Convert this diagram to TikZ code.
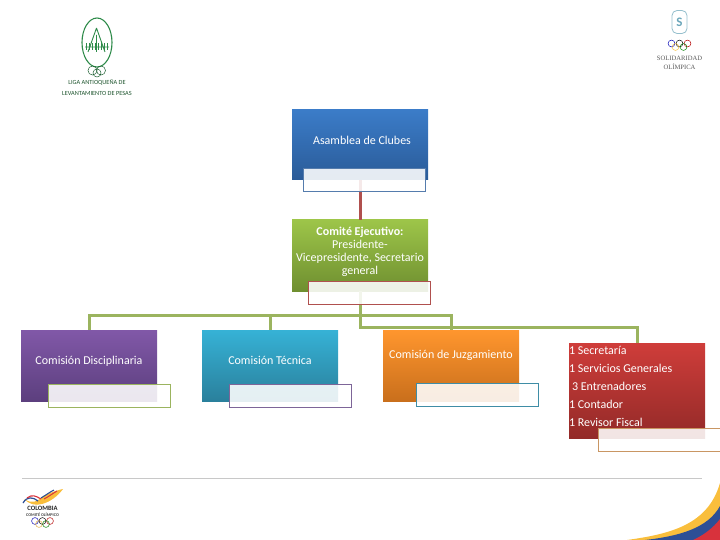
\documentclass[tikz,border=0pt]{standalone}
\usepackage{fontspec}
\setmainfont{Carlito}
\newfontfamily\logoserif{Liberation Serif}
\usetikzlibrary{positioning, calc, shapes.geometric}

\definecolor{bluetop}{HTML}{3B7CC8}
\definecolor{bluebot}{HTML}{2A5B98}
\definecolor{greentop}{HTML}{9DC549}
\definecolor{greenbot}{HTML}{6F8F30}
\definecolor{purpletop}{HTML}{8158A8}
\definecolor{purplebot}{HTML}{5C3F7E}
\definecolor{cyantop}{HTML}{36B2D6}
\definecolor{cyanbot}{HTML}{2A809C}
\definecolor{orangetop}{HTML}{FF962E}
\definecolor{orangebot}{HTML}{C96F1C}
\definecolor{redtop}{HTML}{CF3D3A}
\definecolor{redbot}{HTML}{932A28}
\definecolor{linkgreen}{HTML}{9BB45F}
\definecolor{linkred}{HTML}{B0504E}
\definecolor{footgrey}{HTML}{C8C8C8}
\definecolor{logogreen}{HTML}{2E8B4A}
\definecolor{flagyellow}{HTML}{F9BE3C}
\definecolor{flagblue}{HTML}{2D4F96}
\definecolor{flagred}{HTML}{D8323C}

\begin{document}
\begin{tikzpicture}[x=1pt, y=-1pt,
  org/.style   = {rectangle, minimum width=136pt, minimum height=71pt, inner sep=0pt,
                  align=center, text=white, font=\fontsize{12}{13.2}\selectfont},
  memo/.style  = {draw, rectangle, minimum width=122pt, minimum height=23pt, inner sep=0pt,
                  fill=white, fill opacity=0.88},
  link/.style  = {line width=3pt},
  olympic/.style = {line width=0.5pt},
]

  \useasboundingbox (0,0) rectangle (720,540);

  % boxes
  \node[org, top color=bluetop, bottom color=bluebot, minimum height=70pt] (asamblea) at (360,145) {\raisebox{10pt}{\hspace{4pt}Asamblea de Clubes}};
  \node[org, top color=greentop, bottom color=greenbot] (comite) at (360,255.5)
        {\parbox{136pt}{\centering\textbf{Comité Ejecutivo:}\\Presidente-\\Vicepresidente, Secretario\\general\par\vspace*{7pt}}};
  \node[org, top color=purpletop, bottom color=purplebot] (disciplina) at (89,365.5) {\raisebox{10pt}{Comisión Disciplinaria}};
  \node[org, top color=cyantop, bottom color=cyanbot] (tecnica) at (270,365.5) {\raisebox{10pt}{Comisión Técnica}};
  \node[org, top color=orangetop, bottom color=orangebot] (juzga) at (451,365.5) {\raisebox{22pt}{Comisión de Juzgamiento}};
  \node[org, top color=redtop, bottom color=redbot, minimum height=95pt,
        font=\fontsize{12}{18}\selectfont] (staff) at (637,390.5)
        {\parbox{136pt}{1 Secretaría\\1 Servicios Generales\\\hspace*{3pt}3 Entrenadores\\1 Contador\\1 Revisor Fiscal\par\vspace*{8pt}}};

  % connectors
  \draw[link, linkred] (asamblea.south) -- (comite.north);
  \draw[link, linkgreen] (comite.south) -- ++(0,24.5) -| (disciplina.north);
  \draw[link, linkgreen] (comite.south) -- ++(0,24.5) -| (tecnica.north);
  \draw[link, linkgreen] (comite.south) -- ++(0,24.5) -| (juzga.north);
  \draw[link, linkgreen] (comite.south) -- ++(0,36.5) -| (staff.north);

  % empty name tags
  \node[memo, draw=bluebot!80] (asambleatag) at (364,179.5) {};
  \node[memo, draw=linkred] (comitetag) at (369.5,292.5) {};
  \node[memo, draw=linkgreen] (disciplinatag) at (109,396) {};
  \node[memo, draw=purplebot!80] (tecnicatag) at (290,396) {};
  \node[memo, draw=cyanbot!90] (juzgatag) at (477.5,394.5) {};
  \node[memo, draw=orangetop!70!black!70, anchor=north west] (stafftag) at (598,428) {};

  % top left logo
  \node[ellipse, draw=logogreen, line width=1.1pt, minimum width=30pt, minimum height=49pt, inner sep=0pt] (ligaoval) at (97,42.5) {};
  \draw[logogreen, line width=0.9pt] (96.5,28) -- (88,52) (96.5,28) -- (105,52) (96.5,35) -- (96.5,52) (85,47) -- (109,47);
  \foreach \i in {0,...,7} \draw[logogreen, line width=0.9pt] (86+3*\i,43) -- (86+3*\i,50);
  \draw[logogreen!70!black, line width=0.5pt] (92.5,70.5) circle[radius=4.5pt] (101,70.5) circle[radius=4.5pt] (97,73) circle[radius=4pt];
  \node[font=\fontsize{6.3}{11}\selectfont, text=logogreen!60!black, align=center, inner sep=0pt] (liganame) at (97,88) {LIGA ANTIOQUEÑA DE\\LEVANTAMIENTO DE PESAS};

  % top right logo
  \node[rectangle, rounded corners=5pt, draw=cyanbot!50, line width=0.8pt, minimum width=15pt, minimum height=23pt, inner sep=0pt, font=\bfseries\fontsize{13}{13}\selectfont, text=cyanbot!70] (solbadge) at (679.5,22) {S};
  \draw[olympic, blue!70!black] (671.5,43.5) circle[radius=3.4pt];
  \draw[olympic, black] (679.5,43.5) circle[radius=3.4pt];
  \draw[olympic, red!70!black] (687.5,43.5) circle[radius=3.4pt];
  \draw[olympic, flagyellow] (675.5,47) circle[radius=3.4pt];
  \draw[olympic, green!50!black] (683.5,47) circle[radius=3.4pt];
  \node[font=\logoserif\fontsize{6.6}{9}\selectfont, text=black!65, align=center, inner sep=0pt] (solname) at (679.5,62.5) {SOLIDARIDAD\\OLÍMPICA};

  % footer
  \coordinate (footl) at (22,478.5);
  \coordinate (footr) at (702,478.5);
  \draw[footgrey, line width=0.8pt] (footl) -- (footr);

  % corner flag
  \fill[flagyellow] (627,540) .. controls (670,534) and (708,525) .. (720,483) -- (720,540) -- cycle;
  \fill[flagblue] (645,540) .. controls (680,536) and (708,528) .. (720,506) -- (720,540) -- cycle;
  \fill[flagred] (693,540) .. controls (704,535) and (713,528) .. (720,519) -- (720,540) -- cycle;

  % bottom left logo
  \fill[flagyellow] (24,499) .. controls (32,504) and (37,502) .. (42,497) .. controls (47,494) and (54,491) .. (63,489) .. controls (58,496) and (50,502) .. (42,504) .. controls (35,506) and (29,504) .. (24,499) -- cycle;
  \draw[flagblue, line width=1.2pt] (23,503) .. controls (27,496) and (33,497) .. (38,501);
  \draw[flagred, line width=1.1pt] (27,498) .. controls (32,494) and (36,496) .. (41,499);
  \draw[flagblue, line width=1.1pt] (41,498) .. controls (46,495) and (50,492) .. (54,490);
  \draw[flagred, line width=1pt] (44,499) .. controls (48,497) and (52,494) .. (57,491);
  \node[font=\bfseries\fontsize{6.6}{6.6}\selectfont, text=black!85, inner sep=0pt] (colname) at (42.5,508.5) {COLOMBIA};
  \node[font=\bfseries\fontsize{4.2}{4.2}\selectfont, text=black!75, inner sep=0pt] (colcomite) at (42.5,515) {COMITÉ OLÍMPICO};
  \draw[olympic, blue!70!black] (35,521) circle[radius=3.4pt];
  \draw[olympic, black] (42.5,521) circle[radius=3.4pt];
  \draw[olympic, red!70!black] (50,521) circle[radius=3.4pt];
  \draw[olympic, flagyellow!90!black] (39,524) circle[radius=3.4pt];
  \draw[olympic, green!50!black] (46,524) circle[radius=3.4pt];

\end{tikzpicture}
\end{document}
